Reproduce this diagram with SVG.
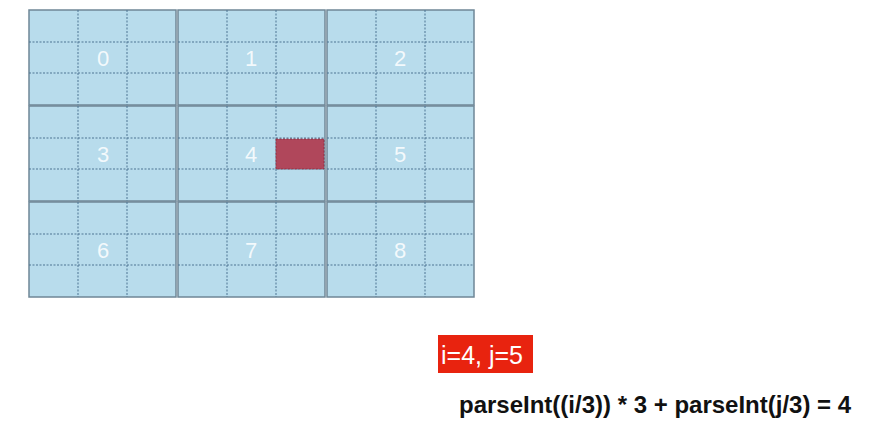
<svg xmlns="http://www.w3.org/2000/svg" width="874" height="430" viewBox="0 0 874 430">
<style>
.box{fill:#b8dcec;stroke:#6f8797;stroke-width:1.5}
.dot{stroke:#4d7493;stroke-width:1;stroke-dasharray:2,1.5;fill:none}
.lbl{font-family:"Liberation Sans",Arial,sans-serif;font-size:22px;fill:#ffffff;fill-opacity:0.85;text-anchor:middle}
</style>
<rect width="874" height="430" fill="#ffffff"/>
<g id="box0"><rect class="box" x="29" y="10" width="147" height="95"/><path class="dot" d="M78 10V105M127 10V105M29 42H176M29 73H176"/><text class="lbl" x="103" y="66">0</text></g>
<g id="box1"><rect class="box" x="178" y="10" width="147" height="95"/><path class="dot" d="M227 10V105M276 10V105M178 42H325M178 73H325"/><text class="lbl" x="251" y="66">1</text></g>
<g id="box2"><rect class="box" x="327" y="10" width="147" height="95"/><path class="dot" d="M376 10V105M425 10V105M327 42H474M327 73H474"/><text class="lbl" x="400" y="66">2</text></g>
<g id="box3"><rect class="box" x="29" y="106" width="147" height="95"/><path class="dot" d="M78 106V201M127 106V201M29 138H176M29 169H176"/><text class="lbl" x="103" y="162">3</text></g>
<g id="box4"><rect class="box" x="178" y="106" width="147" height="95"/><path class="dot" d="M227 106V201M276 106V201M178 138H325M178 169H325"/><text class="lbl" x="251" y="162">4</text></g>
<g id="box5"><rect class="box" x="327" y="106" width="147" height="95"/><path class="dot" d="M376 106V201M425 106V201M327 138H474M327 169H474"/><text class="lbl" x="400" y="162">5</text></g>
<g id="box6"><rect class="box" x="29" y="202" width="147" height="95"/><path class="dot" d="M78 202V297M127 202V297M29 234H176M29 265H176"/><text class="lbl" x="103" y="258">6</text></g>
<g id="box7"><rect class="box" x="178" y="202" width="147" height="95"/><path class="dot" d="M227 202V297M276 202V297M178 234H325M178 265H325"/><text class="lbl" x="251" y="258">7</text></g>
<g id="box8"><rect class="box" x="327" y="202" width="147" height="95"/><path class="dot" d="M376 202V297M425 202V297M327 234H474M327 265H474"/><text class="lbl" x="400" y="258">8</text></g>
<g id="cell"><rect x="276" y="139" width="48" height="30" fill="#b0475b" stroke="#8a3346" stroke-width="1" stroke-dasharray="2,1.5"/></g>
<g id="ij"><rect x="438" y="335" width="95" height="38" fill="#e8230f"/><text x="441" y="364" font-family="'Liberation Sans',Arial,sans-serif" font-size="25" fill="#ffffff">i=4, j=5</text></g>
<g id="formula"><text x="459" y="413" font-family="'Liberation Sans',Arial,sans-serif" font-size="24" font-weight="bold" fill="#111111">parseInt((i/3)) * 3 + parseInt(j/3) = 4</text></g>
</svg>
